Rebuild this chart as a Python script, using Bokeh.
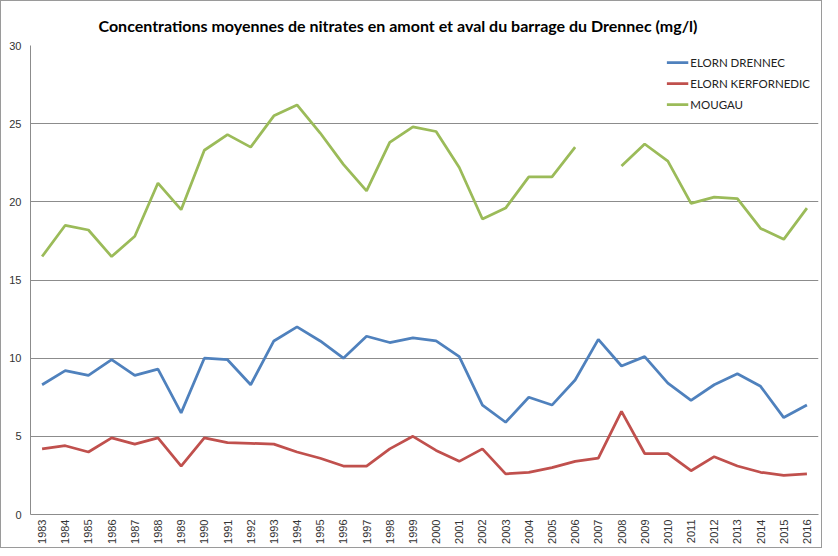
import math
from bokeh.plotting import figure
from bokeh.models import FactorRange, Range1d, SingleIntervalTicker, Legend, LegendItem, Title
from bokeh.embed import file_html
from bokeh.resources import INLINE

years = [str(y) for y in range(1983, 2017)]
nan = float("nan")
drennec = [8.3, 9.2, 8.9, 9.9, 8.9, 9.3, 6.5, 10.0, 9.9, 8.3, 11.1, 12.0, 11.1, 10.0,
           11.4, 11.0, 11.3, 11.1, 10.1, 7.0, 5.9, 7.5, 7.0, 8.6, 11.2, 9.5, 10.1, 8.4,
           7.3, 8.3, 9.0, 8.2, 6.2, 7.0]
kerfornedic = [4.2, 4.4, 4.0, 4.9, 4.5, 4.9, 3.1, 4.9, 4.6, 4.55, 4.5, 4.0, 3.6, 3.1,
               3.1, 4.2, 5.0, 4.1, 3.4, 4.2, 2.6, 2.7, 3.0, 3.4, 3.6, 6.6, 3.9, 3.9,
               2.8, 3.7, 3.1, 2.7, 2.5, 2.6]
mougau = [16.5, 18.5, 18.2, 16.5, 17.8, 21.2, 19.5, 23.3, 24.3, 23.5, 25.5, 26.2, 24.4,
          22.4, 20.7, 23.8, 24.8, 24.5, 22.2, 18.9, 19.6, 21.6, 21.6, 23.5, nan, 22.3,
          23.7, 22.6, 19.9, 20.3, 20.2, 18.3, 17.6, 19.6]
series_names = ["ELORN DRENNEC", "ELORN KERFORNEDIC", "MOUGAU"]
colors = ["#4F81BD", "#C0504D", "#9BBB59"]
title_text = "Concentrations  moyennes de nitrates en amont et aval du barrage du Drennec (mg/l)"

p = figure(width=822, height=548, x_range=FactorRange(*years, range_padding=0),
           y_range=Range1d(0, 30), output_backend="svg", toolbar_location=None,
           min_border_left=29, min_border_right=5, min_border_top=44, min_border_bottom=35)
p.styles = {"border": "1px solid #9a9a9a"}

main_title = Title(text=title_text, align="left", offset=68, standoff=22,
                   text_font="Lato", text_font_style="bold", text_font_size="16px",
                   text_color="#000000")
p.add_layout(main_title, "above")

p.outline_line_color = None
p.xgrid.grid_line_color = None
p.ygrid.grid_line_color = "#8c8c8c"
p.ygrid.grid_line_width = 1
p.yaxis.ticker = SingleIntervalTicker(interval=5)
p.yaxis.axis_line_color = "#8c8c8c"
p.yaxis.major_tick_line_color = None
p.yaxis.major_tick_out = 0
p.yaxis.major_tick_in = 0
p.yaxis.minor_tick_line_color = None
p.yaxis.major_label_standoff = 5
p.yaxis.major_label_text_font = "Liberation Sans"
p.yaxis.major_label_text_font_size = "11px"
p.yaxis.major_label_text_color = "#333333"

p.xaxis.axis_line_color = "#8c8c8c"
p.xaxis.major_tick_line_color = None
p.xaxis.major_tick_out = 0
p.xaxis.major_tick_in = 0
p.xaxis.minor_tick_line_color = None
p.xaxis.major_label_orientation = math.pi / 2
p.xaxis.major_label_standoff = 5
p.xaxis.major_label_text_font = "Liberation Sans"
p.xaxis.major_label_text_font_size = "11px"
p.xaxis.major_label_text_color = "#333333"

items = []
for name, vals, c in zip(series_names, [drennec, kerfornedic, mougau], colors):
    r = p.line(years, vals, line_color=c, line_width=2.75)
    items.append(LegendItem(label=name, renderers=[r]))

legend = Legend(items=items, location="top_right")
legend.border_line_color = None
legend.background_fill_alpha = 0
legend.label_text_font = "Lato"
legend.label_text_font_size = "11.5px"
legend.label_text_color = "#222222"
legend.glyph_width = 22
legend.glyph_height = 18
legend.label_height = 18
legend.spacing = 3
legend.padding = 0
legend.margin = 8
legend.label_standoff = 2
p.add_layout(legend)

open("out.html", "w").write(file_html(p, INLINE))
